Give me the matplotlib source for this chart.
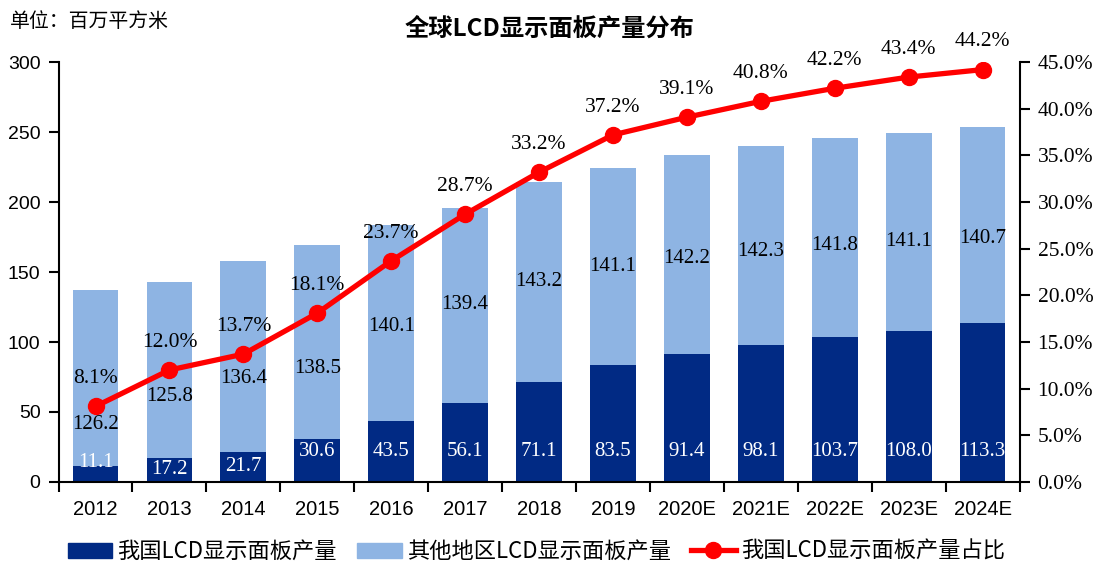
import matplotlib
matplotlib.use("Agg")
import matplotlib.pyplot as plt
import numpy as np
from matplotlib.lines import Line2D
from matplotlib.patches import Patch

years = ["2012", "2013", "2014", "2015", "2016", "2017", "2018", "2019",
         "2020E", "2021E", "2022E", "2023E", "2024E"]
china = [11.1, 17.2, 21.7, 30.6, 43.5, 56.1, 71.1, 83.5, 91.4, 98.1, 103.7, 108.0, 113.3]
others = [126.2, 125.8, 136.4, 138.5, 140.1, 139.4, 143.2, 141.1, 142.2, 142.3, 141.8, 141.1, 140.7]
share = [8.1, 12.0, 13.7, 18.1, 23.7, 28.7, 33.2, 37.2, 39.1, 40.8, 42.2, 43.4, 44.2]

# label placement (data units on left axis)
china_label_y = [14, 8.6, 11, 22, 22, 22, 22, 22, 22, 22, 22, 22, 22]
others_label_y = [41, 61, 74, 81, 111, 127, 143, 154, 160, 165, 169, 172, 174]

DARK = "#012A84"
LIGHT = "#8EB4E3"
RED = "#FF0000"
SERIF = ["Liberation Serif", "Noto Sans CJK SC"]
CJK = ["Noto Sans CJK SC", "DejaVu Sans"]

fig = plt.figure(figsize=(10.99, 5.65), dpi=100)
ax = fig.add_axes([0.0533, 0.147, 0.8744, 0.743])
x = np.arange(len(years))
w = 0.62
ax.bar(x, china, w, color=DARK, zorder=2)
ax.bar(x, others, w, bottom=china, color=LIGHT, zorder=2)
ax.set_xlim(-0.5, len(years) - 0.5)
ax.set_ylim(0, 300)
ax.set_yticks(np.arange(0, 301, 50))
ax.tick_params(axis="y", direction="out", length=7, width=1.5, labelsize=14, pad=6)
for t in ax.get_yticklabels():
    t.set_fontfamily("Liberation Sans")
ax.set_xticks(x)
ax.set_xticklabels(years, fontfamily="Liberation Sans", fontsize=14.5)
ax.tick_params(axis="x", length=0, pad=13)
ax.set_xticks(np.arange(-0.5, len(years)), minor=True)
ax.tick_params(axis="x", which="minor", direction="out", length=7, width=1.5)
for s in ["top", "right"]:
    ax.spines[s].set_visible(False)
for s in ["left", "bottom"]:
    ax.spines[s].set_linewidth(1.5)

for i in range(len(years)):
    ax.text(x[i], china_label_y[i], f"{china[i]:.1f}", ha="center", va="center",
            color="white", fontfamily=SERIF, fontsize=15, zorder=5)
    ax.text(x[i], others_label_y[i], f"{others[i]:.1f}", ha="center", va="center",
            color="black", fontfamily=SERIF, fontsize=15, zorder=5)

ax2 = ax.twinx()
ax2.set_ylim(0, 45)
ax2.set_yticks(np.arange(0, 46, 5))
ax2.set_yticklabels([f"{v:.1f}%" for v in np.arange(0, 46, 5)], fontfamily=SERIF, fontsize=15.5)
ax2.tick_params(axis="y", direction="out", length=7, width=1.5, pad=6)
for s in ["top", "left", "bottom"]:
    ax2.spines[s].set_visible(False)
ax2.spines["right"].set_linewidth(1.5)
ax2.plot(x, share, color=RED, lw=3.8, marker="o", markersize=11.5, zorder=6)
for i in range(len(years)):
    ax2.annotate(f"{share[i]:.1f}%", (x[i], share[i]), xytext=(0, 20), textcoords="offset points",
                 ha="center", va="center", fontfamily=SERIF, fontsize=15.5, color="black")

fig.text(0.009, 0.962, "单位：百万平方米", fontfamily=CJK, fontsize=14.3, va="center", ha="left")
fig.text(0.5, 0.950, "全球LCD显示面板产量分布", fontfamily=CJK, fontsize=17.5, fontweight="bold",
         va="center", ha="center")

handles = [Patch(color=DARK), Patch(color=LIGHT),
           Line2D([0], [0], color=RED, lw=3.8, marker="o", markersize=11.5)]
labels = ["我国LCD显示面板产量", "其他地区LCD显示面板产量", "我国LCD显示面板产量占比"]
leg = fig.legend(handles, labels, loc="center", bbox_to_anchor=(0.488, 0.024), ncol=3, frameon=False,
                 prop={"family": CJK, "size": 16}, handlelength=2.0, handleheight=0.65,
                 columnspacing=0.9, handletextpad=0.25)

fig.savefig("out.png", dpi=100)
